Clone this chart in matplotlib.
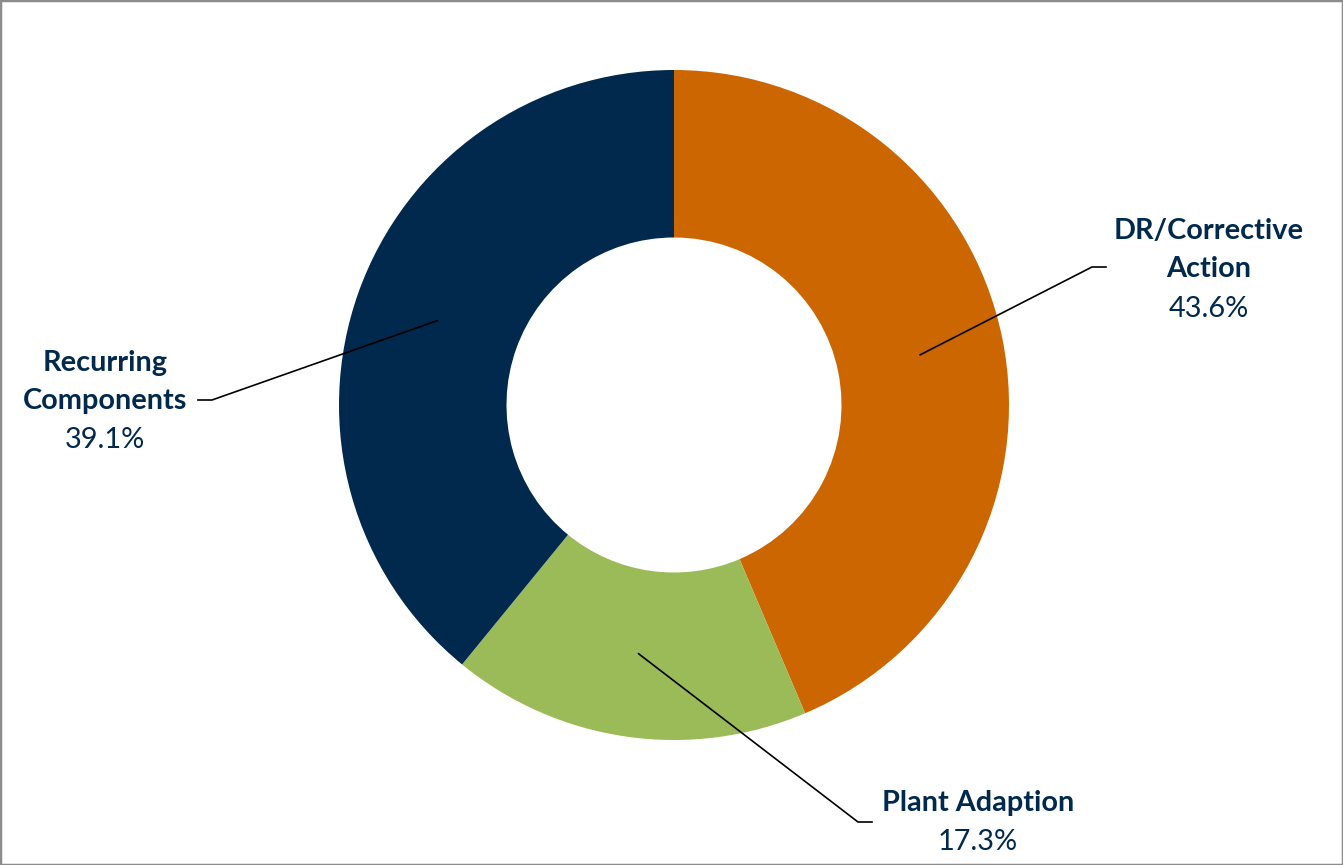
import numpy as np
import matplotlib
matplotlib.use("Agg")
import matplotlib.pyplot as plt
from matplotlib.patches import Rectangle

# ---------------------------------------------------------------------------
# Data
# ---------------------------------------------------------------------------
labels = ["DR/Corrective\nAction", "Plant Adaption", "Recurring\nComponents"]
shares = [43.6, 17.3, 39.1]
colors = ["#CC6600", "#9BBB59", "#00294D"]

TEXT_COLOR = "#00294D"
plt.rcParams["font.family"] = ["Lato", "DejaVu Sans"]

W, H = 1343, 865
CX, CY, R = 674, 405, 335  # pixel centre / radius


def px(x, y):
    """pixel (from top-left) -> data units (radius = 1)"""
    return (x - CX) / R, (CY - y) / R


fig = plt.figure(figsize=(W / 100, H / 100), dpi=100)
ax = fig.add_axes([0, 0, 1, 1])
ax.axis("off")

wedges, _ = ax.pie(shares, colors=colors, startangle=90, counterclock=False,
                   radius=1.0, center=(0, 0),
                   wedgeprops=dict(width=0.5, linewidth=0))
ax.set_xlim(-CX / R, (W - CX) / R)
ax.set_ylim(-(H - CY) / R, CY / R)
ax.set_aspect("equal")

# label layout: elbow point, end of short horizontal tick, text centre (pixels)
layout = [
    dict(elbow=(1092, 267), tick=(1106, 267), name=(1209, 250), pct=(1209, 309)),
    dict(elbow=(858, 822), tick=(872, 822), name=(978, 803), pct=(978, 842)),
    dict(elbow=(212, 400), tick=(198, 400), name=(105, 382), pct=(105, 440)),
]

for w, lab, val, lay in zip(wedges, labels, shares, layout):
    ang = np.deg2rad((w.theta1 + w.theta2) / 2)
    sx, sy = 0.75 * np.cos(ang), 0.75 * np.sin(ang)
    ex, ey = px(*lay["elbow"])
    tx, ty = px(*lay["tick"])
    ax.plot([sx, ex, tx], [sy, ey, ty], color="black", linewidth=1.2)
    nx, ny = px(*lay["name"])
    ax.text(nx, ny, lab, ha="center", va="center", fontsize=20.8,
            fontweight="bold", color=TEXT_COLOR, linespacing=1.58)
    qx, qy = px(*lay["pct"])
    ax.text(qx, qy, f"{val:.1f}%", ha="center", va="center", fontsize=20.8,
            color=TEXT_COLOR)

fig.patches.append(Rectangle((0, 0), 1, 1, transform=fig.transFigure,
                             fill=False, edgecolor="#8C8C8C", linewidth=2.5))

fig.savefig("out.png", dpi=100)
